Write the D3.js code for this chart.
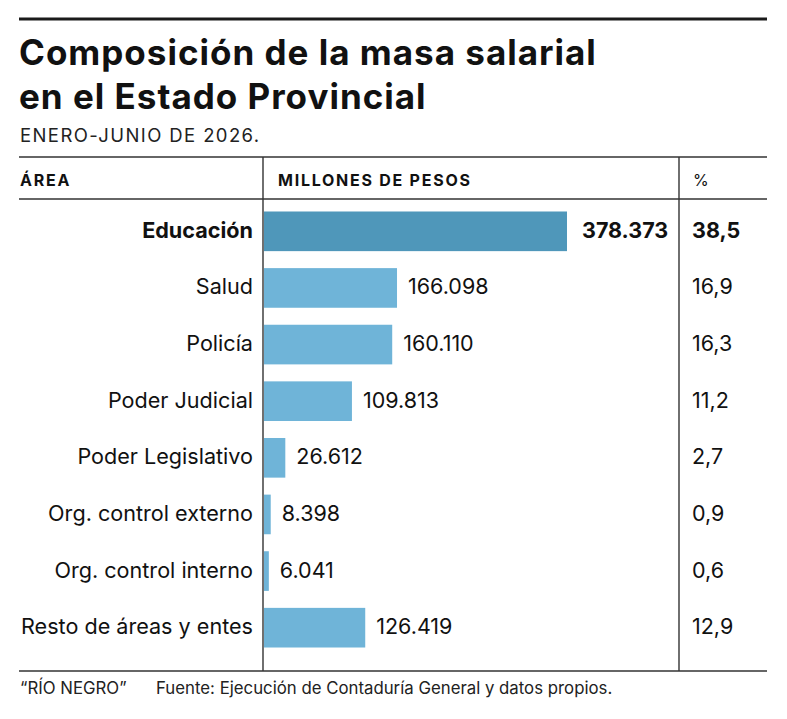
<!DOCTYPE html>
<html>
<head>
<meta charset="utf-8">
<script src="https://cdn.jsdelivr.net/npm/d3@7"></script>
<style>
  html, body { margin: 0; padding: 0; background: #fff; }
  svg { display: block; font-family: Inter, Roboto, "Liberation Sans", sans-serif; }
</style>
</head>
<body>
<div id="vis"></div>
<script>
const width = 787;
const height = 719;

// data
const areas = ['Educación', 'Salud', 'Policía', 'Poder Judicial', 'Poder Legislativo',
  'Org. control externo', 'Org. control interno', 'Resto de áreas y entes'];
const millones = [378373, 166098, 160110, 109813, 26612, 8398, 6041, 126419];
const porcentajes = ['38,5', '16,9', '16,3', '11,2', '2,7', '0,9', '0,6', '12,9'];
const valueLabels = ['378.373', '166.098', '160.110', '109.813', '26.612', '8.398', '6.041', '126.419'];

const rows = areas.map((a, i) => ({ area: a, value: millones[i], pct: porcentajes[i], label: valueLabels[i], bold: i === 0 }));

const svg = d3.select('#vis')
  .append('svg')
  .attr('width', width)
  .attr('height', height);

const left = 19, right = 767;
const col1 = 263, col2 = 679;

// title block
svg.append('line')
  .attr('x1', left).attr('x2', right).attr('y1', 19).attr('y2', 19)
  .attr('stroke', '#1a1a1a').attr('stroke-width', 3);

const title = svg.append('g')
  .attr('font-size', 35).attr('font-weight', 700).attr('fill', '#111')
  .attr('letter-spacing', 1);
title.append('text').attr('x', left).attr('y', 65).text('Composición de la masa salarial');
title.append('text').attr('x', left).attr('y', 108.5).text('en el Estado Provincial');

svg.append('text')
  .attr('x', left + 1).attr('y', 141.5)
  .attr('font-size', 18.5).attr('letter-spacing', 1.4).attr('fill', '#222')
  .text('ENERO-JUNIO DE 2026.');

// table frame
const tableTop = 157, headLine = 199, tableBottom = 671;
[tableTop, headLine, tableBottom].forEach(y => {
  svg.append('line')
    .attr('x1', left).attr('x2', right).attr('y1', y).attr('y2', y)
    .attr('stroke', '#333').attr('stroke-width', 1.6);
});
[col1, col2].forEach(x => {
  svg.append('line')
    .attr('x1', x).attr('x2', x).attr('y1', tableTop).attr('y2', tableBottom)
    .attr('stroke', '#333').attr('stroke-width', 1.4);
});

// header
const head = svg.append('g')
  .attr('font-size', 16).attr('font-weight', 700).attr('fill', '#111')
  .attr('letter-spacing', 1.75);
head.append('text').attr('x', left + 1).attr('y', 186).text('ÁREA');
head.append('text').attr('x', 278).attr('y', 186).text('MILLONES DE PESOS');
head.append('text').attr('x', 693).attr('y', 186).attr('font-weight', 400).attr('letter-spacing', 0).text('%');

// scales
const y = d3.scaleBand()
  .domain(areas)
  .range([203, 656])
  .paddingInner(0.3)
  .paddingOuter(0.15);

const x = d3.scaleLinear()
  .domain([0, d3.max(millones)])
  .range([col1 + 1, 567]);

const g = svg.append('g');

g.selectAll('rect')
  .data(rows)
  .join('rect')
  .attr('x', x(0))
  .attr('y', d => y(d.area))
  .attr('width', d => x(d.value) - x(0))
  .attr('height', y.bandwidth())
  .attr('fill', d => d.bold ? '#4f97ba' : '#6fb4d8');

const mid = d => y(d.area) + y.bandwidth() / 2;

// area labels
g.selectAll('text.area')
  .data(rows)
  .join('text')
  .attr('class', 'area')
  .attr('x', 253)
  .attr('y', mid)
  .attr('dy', '0.3em')
  .attr('text-anchor', 'end')
  .attr('font-size', 21.6)
  .attr('font-weight', d => d.bold ? 700 : 400)
  .attr('fill', '#111')
  .text(d => d.area);

// value labels
g.selectAll('text.val')
  .data(rows)
  .join('text')
  .attr('class', 'val')
  .attr('x', d => x(d.value) + (d.bold ? 15 : 11))
  .attr('y', mid)
  .attr('dy', '0.3em')
  .attr('font-size', 21.5)
  .attr('font-weight', d => d.bold ? 700 : 400)
  .attr('fill', '#111')
  .text(d => d.label);

// percentages
g.selectAll('text.pct')
  .data(rows)
  .join('text')
  .attr('class', 'pct')
  .attr('x', 692)
  .attr('y', mid)
  .attr('dy', '0.3em')
  .attr('font-size', 21.5)
  .attr('font-weight', d => d.bold ? 700 : 400)
  .attr('fill', '#111')
  .text(d => d.pct);

// footer
const foot = svg.append('g')
  .attr('font-size', 16.8).attr('fill', '#222');
foot.append('text').attr('x', left + 1).attr('y', 694).text('“RÍO NEGRO”');
foot.append('text').attr('x', 156).attr('y', 694)
  .text('Fuente: Ejecución de Contaduría General y datos propios.');
</script>
</body>
</html>
